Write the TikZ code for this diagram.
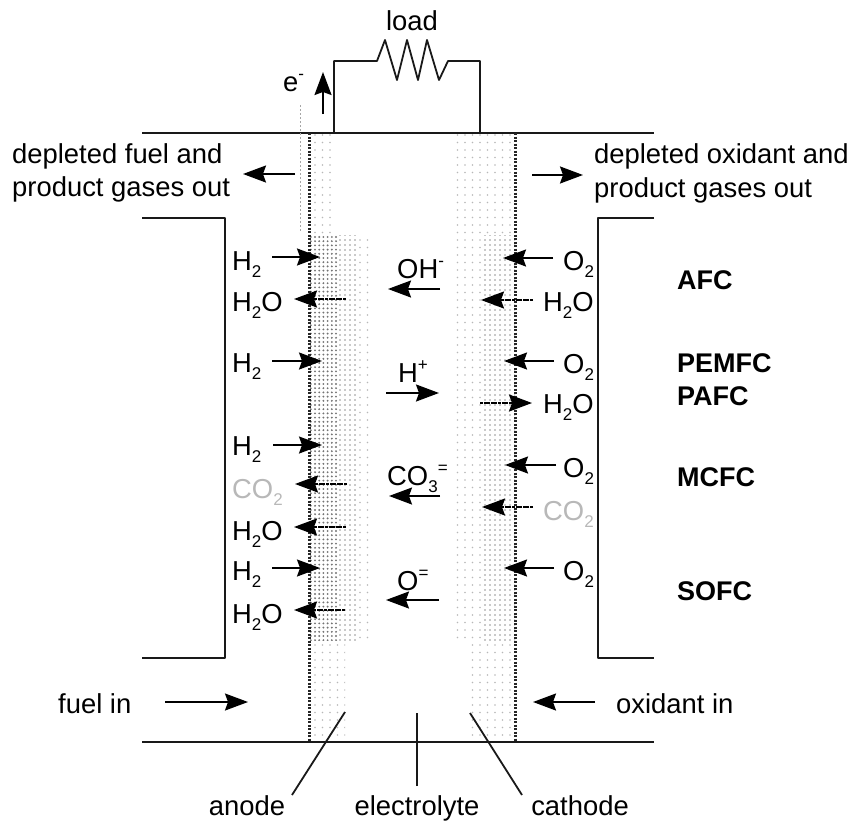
\documentclass[tikz,border=0pt]{standalone}
\usepackage{fontspec}
\setmainfont{Liberation Sans}
\usetikzlibrary{arrows.meta,patterns.meta}
\newcommand{\lowsub}[1]{\raisebox{-0.27em}{\fontsize{17}{17}\selectfont #1}}
\newcommand{\highsup}[1]{\raisebox{0.42em}{\fontsize{17}{17}\selectfont #1}}
\newcommand{\Htwo}{H\lowsub{2}}
\newcommand{\Otwo}{O\lowsub{2}}
\newcommand{\water}{H\lowsub{2}O}
\newcommand{\carbon}{CO\lowsub{2}}
\tikzset{
  x=1pt,y=-1pt,
  lab/.style={font=\fontsize{27.4}{27.4}\selectfont,inner sep=0pt,anchor=base west,text=black},
  centerlab/.style={lab,anchor=base},
  faint/.style={lab,text=black!28},
  bold/.style={lab,font=\fontsize{27}{27}\selectfont\bfseries},
  wire/.style={line width=1.8pt,black!90,line join=round},
  wall/.style={line width=3pt,black!85,dash pattern=on 2.4pt off 1.1pt},
  flow/.style={line width=1.8pt,black,-{Stealth[length=23pt,width=17pt,inset=3pt]}},
  softflow/.style={flow,dash pattern=on 3pt off 0.6pt},
  leader/.style={line width=1.8pt,black!90},
  stipdense/.style={pattern={Dots[radius=1.05pt,distance=4.2pt]},pattern color=black!55},
  stipmid/.style={pattern={Dots[radius=0.95pt,distance=5pt]},pattern color=black!42},
  stiplight/.style={pattern={Dots[radius=0.8pt,distance=7.5pt]},pattern color=black!28},
}
\begin{document}
\begin{tikzpicture}
\useasboundingbox (0,0) rectangle (858,825);
% shaded electrode bands
\fill[stiplight] (309,133) rectangle (335,235);
\fill[stiplight] (455,133) rectangle (515,235);
\fill[stipdense] (309,235) rectangle (338,640);
\fill[stipmid] (338,235) rectangle (356,640);
\fill[stiplight] (356,235) rectangle (372,640);
\fill[stiplight] (455,235) rectangle (482,640);
\fill[stipmid] (482,235) rectangle (515,640);
\fill[stiplight] (309,640) rectangle (345,742);
\fill[stiplight] (470,640) rectangle (515,742);
% housing
\draw[wire] (142,133) -- (654,133);
\draw[wire] (142,742) -- (654,742);
\draw[wire] (142,218) -- (225,218) -- (225,658) -- (142,658);
\draw[wire] (654,218) -- (598,218) -- (598,658) -- (654,658);
\draw[wall] (309,133) -- (309,742);
\draw[wall] (515,133) -- (515,742);
\draw[line width=0.8pt,black!35,dash pattern=on 2pt off 2pt] (300,105) -- (300,232);
% load circuit
\draw[wire] (334,133) -- (334,61) -- (377,61) -- (385,40) -- (397,80) -- (407,40) -- (418,80) -- (427,40) -- (439,80) -- (448,61) -- (480,61) -- (480,133);
\node[centerlab] (load) at (412,30) {load};
\node[lab] (electron) at (283,91) {e\highsup{-}};
% outer gas labels
\node[lab] (fuelout1) at (12,163) {depleted fuel and};
\node[lab] (fuelout2) at (12,196) {product gases out};
\node[lab] (oxout1) at (594,163) {depleted oxidant and};
\node[lab] (oxout2) at (594,197) {product gases out};
\node[lab] (fuelin) at (58,713) {fuel in};
\node[lab] (oxin) at (616,713) {oxidant in};
% anode side species
\node[lab] (a1) at (232,270) {\Htwo};
\node[lab] (a2) at (232,311) {\water};
\node[lab] (a3) at (232,372) {\Htwo};
\node[lab] (a4) at (232,455) {\Htwo};
\node[faint] (a5) at (232,498) {\carbon};
\node[lab] (a6) at (232,540) {\water};
\node[lab] (a7) at (232,580) {\Htwo};
\node[lab] (a8) at (232,623) {\water};
% cathode side species
\node[lab] (c1) at (563,270) {\Otwo};
\node[lab] (c2) at (543,311) {\water};
\node[lab] (c3) at (563,373) {\Otwo};
\node[lab] (c4) at (543,413) {\water};
\node[lab] (c5) at (563,477) {\Otwo};
\node[faint] (c6) at (543,520) {\carbon};
\node[lab] (c7) at (563,580) {\Otwo};
% ions
\node[lab] (i1) at (397,278) {OH\highsup{-}};
\node[lab] (i2) at (398,382) {H\highsup{+}};
\node[lab] (i3) at (387,485) {CO\lowsub{3}\highsup{=}};
\node[lab] (i4) at (397,590) {O\highsup{=}};
% cell types
\node[bold] (afc) at (677,289) {AFC};
\node[bold] (pem) at (677,372) {PEMFC};
\node[bold] (paf) at (677,405) {PAFC};
\node[bold] (mcf) at (677,486) {MCFC};
\node[bold] (sof) at (677,600) {SOFC};
% bottom labels
\node[centerlab] (anode) at (247,815) {anode};
\node[centerlab] (electrolyte) at (417,815) {electrolyte};
\node[centerlab] (cathode) at (580,815) {cathode};
\coordinate (anodetip) at (345,712);
\coordinate (electrolytetip) at (417,713);
\coordinate (cathodetip) at (470,713);
\coordinate (anodefoot) at (292,795);
\coordinate (electrolytefoot) at (417,786);
\coordinate (cathodefoot) at (522,795);
\draw[leader] (anodefoot) -- (anodetip);
\draw[leader] (electrolytefoot) -- (electrolytetip);
\draw[leader] (cathodefoot) -- (cathodetip);
% gas and electron arrows
\draw[flow] (323,114) -- (323,72);
\draw[flow] (295,174) -- (243,174);
\draw[flow] (532,175) -- (583,175);
\draw[flow] (165,702) -- (248,702);
\draw[flow] (595,702) -- (533,702);
% anode arrows
\draw[flow] (272,257) -- (320,257);
\draw[softflow] (346,299) -- (294,299);
\draw[flow] (272,361) -- (322,361);
\draw[flow] (273,445) -- (322,445);
\draw[softflow] (347,484) -- (295,484);
\draw[softflow] (346,527) -- (294,527);
\draw[flow] (272,568) -- (320,568);
\draw[softflow] (345,610) -- (294,610);
% cathode arrows
\draw[flow] (553,258) -- (503,258);
\draw[softflow] (533,300) -- (481,300);
\draw[flow] (554,361) -- (504,361);
\draw[softflow] (480,403) -- (532,403);
\draw[flow] (556,465) -- (505,465);
\draw[softflow] (533,507) -- (482,507);
\draw[flow] (554,568) -- (504,568);
% ion arrows
\draw[flow] (440,289) -- (388,289);
\draw[flow] (386,393) -- (439,393);
\draw[flow] (440,496) -- (389,496);
\draw[flow] (439,600) -- (386,600);
\end{tikzpicture}
\end{document}
